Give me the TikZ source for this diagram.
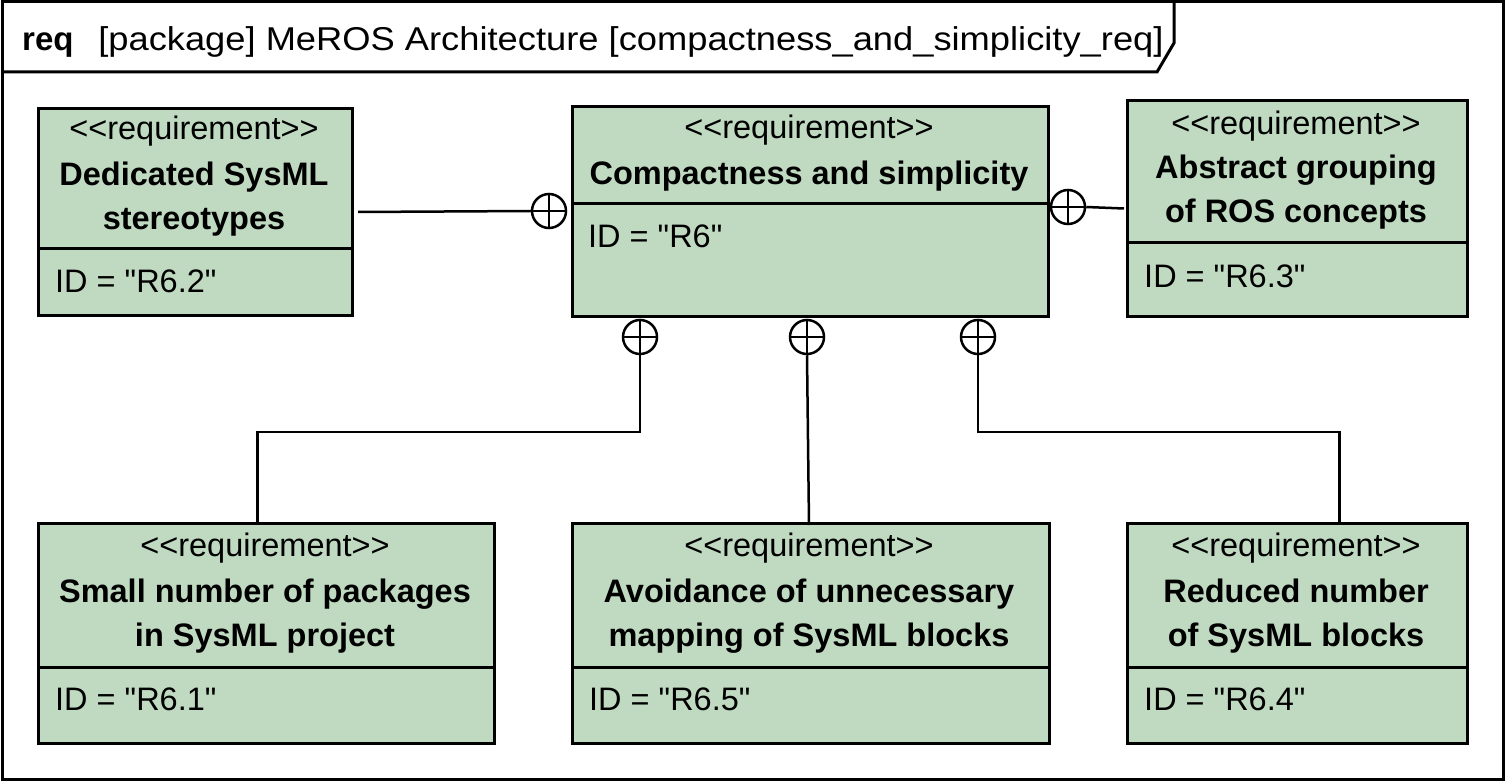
\documentclass[tikz,border=0pt]{standalone}
\usepackage{fontspec}
\setmainfont{Liberation Sans}[Ligatures=TeXOff]
\newfontfamily\hdrfont{Liberation Sans}[Ligatures=TeXOff, FakeStretch=1.1]
\definecolor{reqfill}{RGB}{192,218,194}
\tikzset{
  reqbox/.style={draw, line width=3pt, fill=reqfill, inner sep=0pt, anchor=north west},
  divline/.style={line width=3pt},
  stereo/.style={anchor=base, inner sep=0pt, font=\fontsize{32.5}{40}\selectfont},
  titletext/.style={anchor=base, inner sep=0pt, font=\fontsize{32.5}{40}\selectfont\bfseries},
  idtext/.style={anchor=base west, inner sep=0pt, font=\fontsize{32.5}{40}\selectfont},
  oplus/.style={circle, draw, line width=2.5pt, minimum size=34pt, inner sep=0pt},
  conn/.style={line width=2.5pt},
  frameline/.style={line width=3pt}
}
\begin{document}
\begin{tikzpicture}[x=1pt,y=-1pt]
\useasboundingbox (0,0) rectangle (1506,783);
% frame
\draw[frameline] (2,2) rectangle (1503,779);
\draw[frameline] (2,72) -- (1157,72) -- (1174,43) -- (1174,2);
\node[anchor=base west, inner sep=0pt, font=\fontsize{33}{40}\selectfont] (hdr) at (22,51)
  {\textbf{req}\hspace{0.75em}{\hdrfont [package] MeROS Architecture [compactness\_and\_simplicity\_req]}};

% R6.2
\node[reqbox, minimum width=314pt, minimum height=207pt] (r62) at (37,107) {};
\draw[divline] (37,249) -- (351,249);
\node[stereo] (r62s) at (194,140) {<<requirement>>};
\node[titletext] (r62t1) at (194,186) {Dedicated SysML};
\node[titletext] (r62t2) at (194,230) {stereotypes};
\node[idtext] (r62i) at (55,293) {ID = "R6.2"};

% R6
\node[reqbox, minimum width=476pt, minimum height=210pt] (r6) at (571,105) {};
\draw[divline] (571,204) -- (1047,204);
\node[stereo] (r6s) at (809,139) {<<requirement>>};
\node[titletext] (r6t1) at (809,185) {Compactness and simplicity};
\node[idtext] (r6i) at (588,248) {ID = "R6"};

% R6.3
\node[reqbox, minimum width=340pt, minimum height=216pt] (r63) at (1126,99) {};
\draw[divline] (1126,243) -- (1466,243);
\node[stereo] (r63s) at (1296,135) {<<requirement>>};
\node[titletext] (r63t1) at (1296,179) {Abstract grouping};
\node[titletext] (r63t2) at (1296,223) {of ROS concepts};
\node[idtext] (r63i) at (1144,288) {ID = "R6.3"};

% R6.1
\node[reqbox, minimum width=456pt, minimum height=220pt] (r61) at (37,522) {};
\draw[divline] (37,667) -- (493,667);
\node[stereo] (r61s) at (265,556) {<<requirement>>};
\node[titletext] (r61t1) at (265,602) {Small number of packages};
\node[titletext] (r61t2) at (265,646) {in SysML project};
\node[idtext] (r61i) at (55,710) {ID = "R6.1"};

% R6.5
\node[reqbox, minimum width=477pt, minimum height=220pt] (r65) at (571,522) {};
\draw[divline] (571,667) -- (1048,667);
\node[stereo] (r65s) at (809,556) {<<requirement>>};
\node[titletext] (r65t1) at (809,602) {Avoidance of unnecessary};
\node[titletext] (r65t2) at (809,646) {mapping of SysML blocks};
\node[idtext] (r65i) at (589,710) {ID = "R6.5"};

% R6.4
\node[reqbox, minimum width=340pt, minimum height=220pt] (r64) at (1126,522) {};
\draw[divline] (1126,667) -- (1466,667);
\node[stereo] (r64s) at (1296,556) {<<requirement>>};
\node[titletext] (r64t1) at (1296,602) {Reduced number};
\node[titletext] (r64t2) at (1296,646) {of SysML blocks};
\node[idtext] (r64i) at (1144,710) {ID = "R6.4"};

% containment symbols
\node[oplus] (cl) at (549,211) {};
\node[oplus] (cr) at (1068,207) {};
\node[oplus] (c1) at (640,337) {};
\node[oplus] (c2) at (807,337) {};
\node[oplus] (c3) at (978,337) {};
\foreach \c in {cl,cr,c1,c2,c3}{
  \draw[conn] (\c.north) -- (\c.south);
  \draw[conn] (\c.west) -- (\c.east);
}

% connectors
\coordinate (e1) at ([xshift=-9pt,yshift=-3pt]r61.north);
\coordinate (e2) at ([xshift=-2pt,yshift=-3pt]r65.north);
\coordinate (e3) at ([xshift=42pt,yshift=-3pt]r64.north);
\draw[conn] ([xshift=4pt]r62.east) -- (cl.west);
\draw[conn] (cr.east) -- ([xshift=-2pt]r63.west);
\draw[conn] (c1.south) |- (e1 |- 0,432) -- (e1);
\draw[conn] (c2.south) -- (e2);
\draw[conn] (c3.south) |- (e3 |- 0,432) -- (e3);
\end{tikzpicture}
\end{document}
